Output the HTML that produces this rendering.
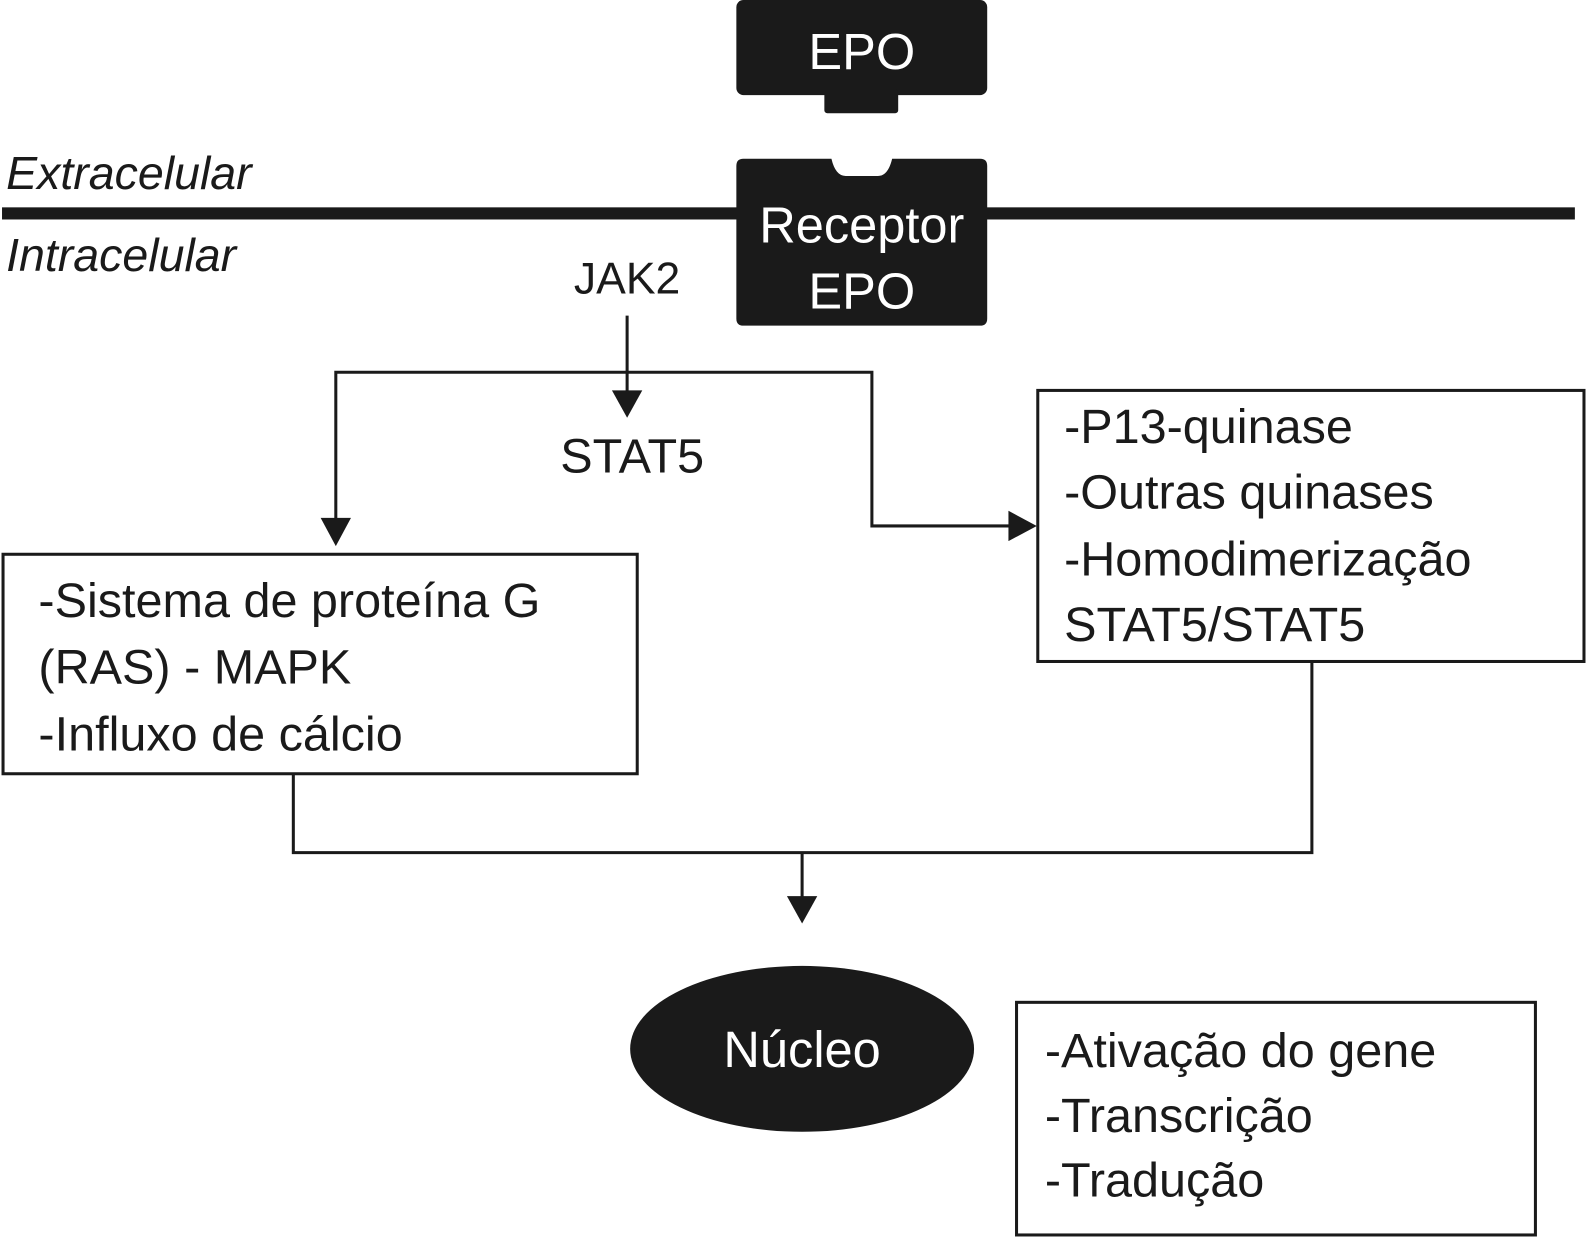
<!DOCTYPE html>
<html><head><meta charset="utf-8"><style>
html,body{margin:0;padding:0;background:#fff;}
svg{display:block;}
text{font-family:"Liberation Sans",Arial,sans-serif;fill:#1a1a1a;}
</style></head><body>
<svg width="1586" height="1238" viewBox="0 0 1568 1224" preserveAspectRatio="none" xmlns="http://www.w3.org/2000/svg">
<rect x="0" y="0" width="1568" height="1224" fill="#fff"/>
<!-- membrane -->
<rect x="2" y="205" width="1555" height="12" fill="#1a1a1a"/>
<!-- EPO -->
<rect x="728" y="0" width="248" height="94" rx="7" fill="#1a1a1a"/>
<rect x="815" y="88" width="73" height="24" rx="3" fill="#1a1a1a"/>
<text x="852" y="68" font-size="50" text-anchor="middle" style="fill:#fff">EPO</text>
<!-- Receptor -->
<path d="M735,157 H822 Q826,174 836,174 H868 Q878,174 882,157 H969 Q976,157 976,164 V315 Q976,322 969,322 H735 Q728,322 728,315 V164 Q728,157 735,157 Z" fill="#1a1a1a"/>
<text x="852" y="240" font-size="50" text-anchor="middle" style="fill:#fff">Receptor</text>
<text x="852" y="305" font-size="50" text-anchor="middle" style="fill:#fff">EPO</text>
<text x="6" y="187" font-size="46" font-style="italic">Extracelular</text>
<text x="6" y="268" font-size="46" font-style="italic">Intracelular</text>
<text x="620" y="290" font-size="44" text-anchor="middle">JAK2</text>
<line x1="620" y1="312" x2="620" y2="390" stroke="#1a1a1a" stroke-width="3"/>
<polygon points="605,386 635,386 620,413" fill="#1a1a1a"/>
<text x="625" y="467" font-size="48" text-anchor="middle">STAT5</text>
<polyline points="332,515 332,368 862,368 862,520 1000,520" fill="none" stroke="#1a1a1a" stroke-width="3"/>
<polygon points="317,512 347,512 332,540" fill="#1a1a1a"/>
<polygon points="997,505 997,535 1025,520" fill="#1a1a1a"/>
<!-- left box -->
<rect x="3" y="548" width="627" height="217" fill="none" stroke="#1a1a1a" stroke-width="3"/>
<text x="38" y="610" font-size="48">-Sistema de proteína G</text>
<text x="38" y="676" font-size="48">(RAS) - MAPK</text>
<text x="38" y="742" font-size="48">-Influxo de cálcio</text>
<!-- right box -->
<rect x="1026" y="386" width="540" height="268" fill="none" stroke="#1a1a1a" stroke-width="3"/>
<text x="1052" y="438" font-size="48">-P13-quinase</text>
<text x="1052" y="503" font-size="48">-Outras quinases</text>
<text x="1052" y="569" font-size="48">-Homodimerização</text>
<text x="1052" y="634" font-size="48">STAT5/STAT5</text>
<!-- joins -->
<polyline points="290,765 290,843 1297,843 1297,654" fill="none" stroke="#1a1a1a" stroke-width="3"/>
<line x1="793" y1="843" x2="793" y2="890" stroke="#1a1a1a" stroke-width="3"/>
<polygon points="778,886 808,886 793,913" fill="#1a1a1a"/>
<!-- nucleus -->
<ellipse cx="793" cy="1037" rx="170" ry="82" fill="#1a1a1a"/>
<text x="793" y="1055" font-size="50" text-anchor="middle" style="fill:#fff">Núcleo</text>
<!-- bottom box -->
<rect x="1005" y="991" width="513" height="230" fill="none" stroke="#1a1a1a" stroke-width="3"/>
<text x="1033" y="1055" font-size="48">-Ativação do gene</text>
<text x="1033" y="1119" font-size="48">-Transcrição</text>
<text x="1033" y="1183" font-size="48">-Tradução</text>
</svg>
</body></html>
